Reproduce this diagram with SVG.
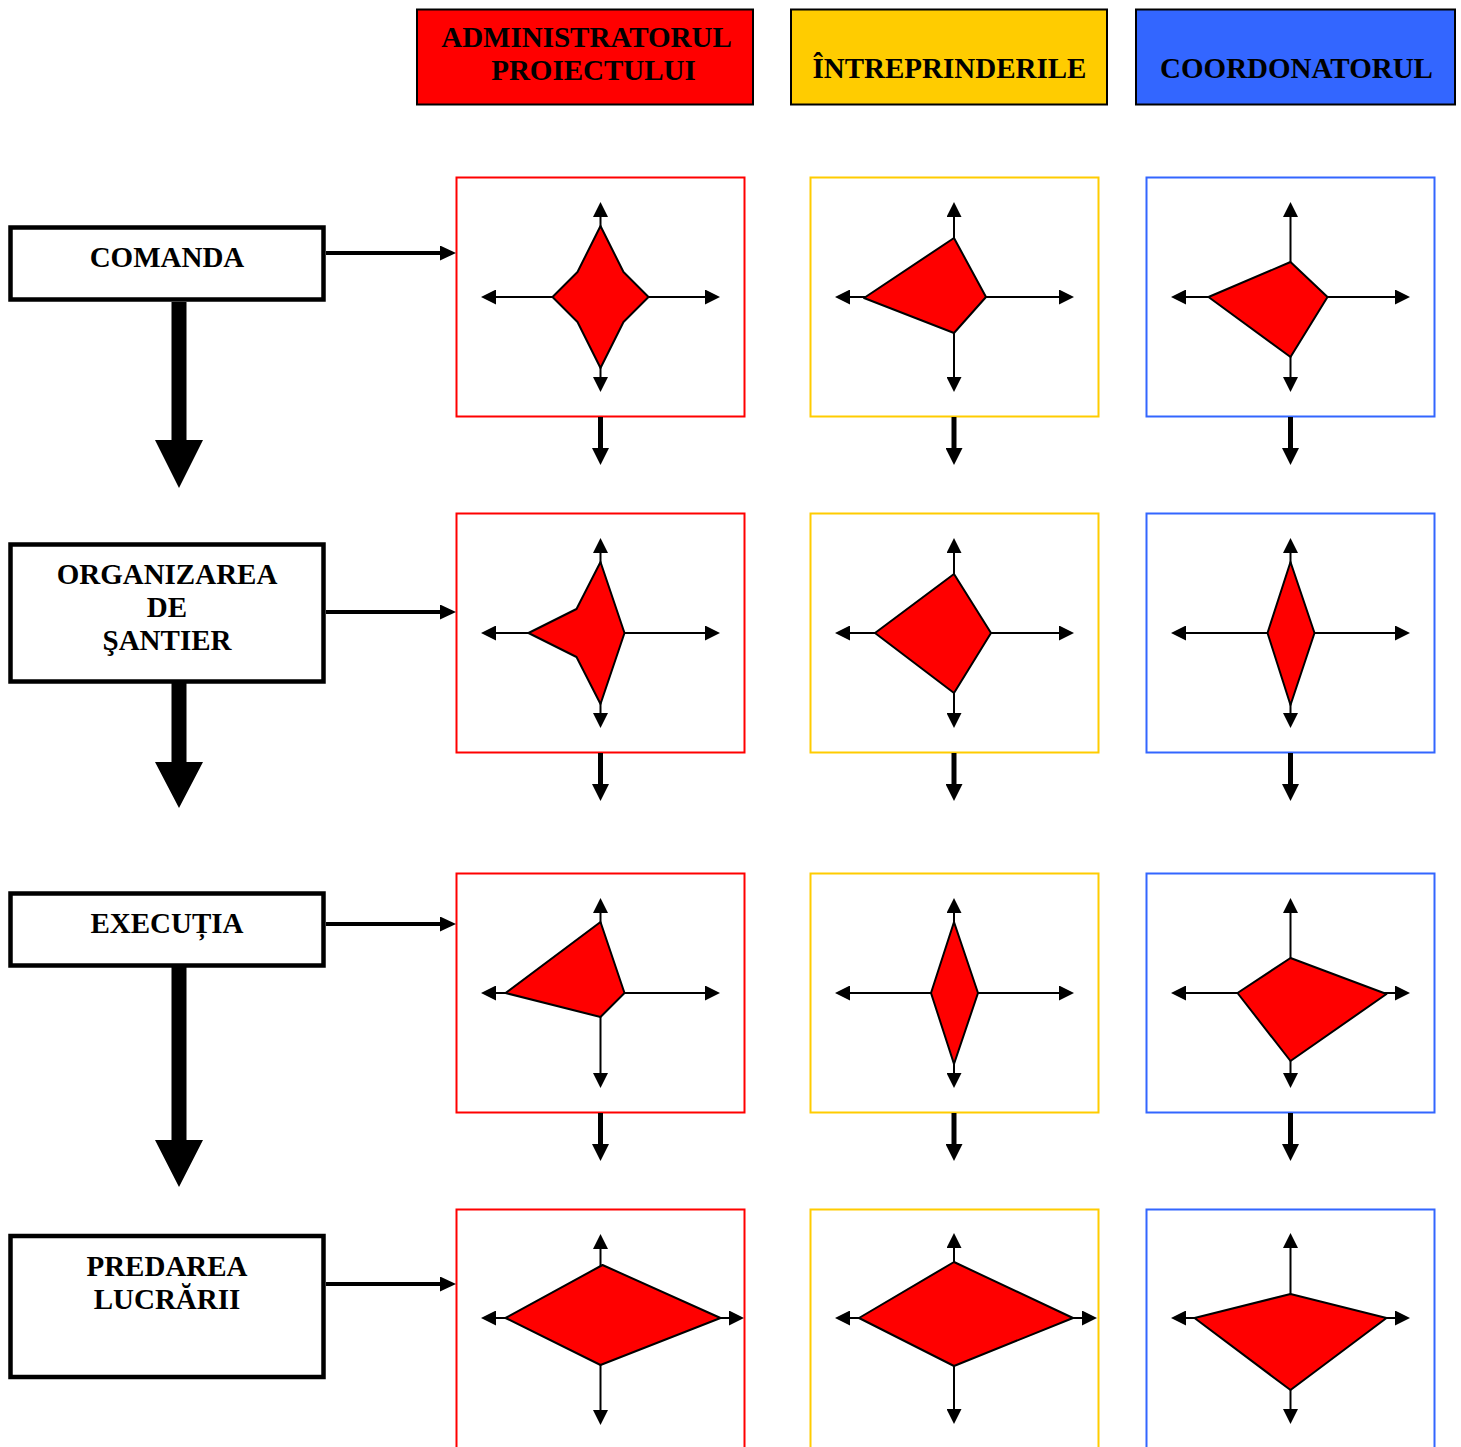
<svg xmlns="http://www.w3.org/2000/svg" width="1461" height="1447" viewBox="0 0 1461 1447">
<defs>
<style>
.hdr{stroke:#000;stroke-width:2}
.htxt{font-family:"Liberation Serif","Times New Roman",serif;font-weight:bold;font-size:29px;fill:#000;text-anchor:middle}
.ltxt{font-family:"Liberation Serif","Times New Roman",serif;font-weight:bold;font-size:29px;fill:#000;text-anchor:middle}
.lbox{fill:#fff;stroke:#000;stroke-width:4.5}
.pr{fill:#fff;stroke:#FF0000;stroke-width:2}
.py{fill:#fff;stroke:#FFCC00;stroke-width:2}
.pb{fill:#fff;stroke:#3366FF;stroke-width:2}
.ax{stroke:#000;stroke-width:2;marker-end:url(#ah)}
.shape{fill:#FF0000;stroke:#000;stroke-width:2;stroke-linejoin:round}
.hc{stroke:#000;stroke-width:4;fill:none;marker-end:url(#ah2)}
.dc{stroke:#000;stroke-width:5;fill:none;marker-end:url(#ah3)}
.big{fill:#000}
</style>
<marker id="ah" viewBox="0 0 10 10" refX="8" refY="5" markerWidth="15" markerHeight="15" markerUnits="userSpaceOnUse" orient="auto"><path d="M0,0 L10,5 L0,10 z" fill="#000"/></marker>
<marker id="ah2" viewBox="0 0 16 15" refX="11" refY="7.5" markerWidth="16" markerHeight="15" markerUnits="userSpaceOnUse" orient="auto"><path d="M0,0 L16,7.5 L0,15 z" fill="#000"/></marker>
<marker id="ah3" viewBox="0 0 17 17" refX="11" refY="8.5" markerWidth="17" markerHeight="17" markerUnits="userSpaceOnUse" orient="auto"><path d="M0,0 L17,8.5 L0,17 z" fill="#000"/></marker>
</defs>
<rect width="1461" height="1447" fill="#fff"/>

<!-- Header nodes -->
<g id="hdr-admin">
<rect class="hdr" x="417" y="9.5" width="336" height="95" fill="#FF0000"/>
<text class="htxt" x="586.5" y="47">ADMINISTRATORUL</text>
<text class="htxt" x="593.5" y="80">PROIECTULUI</text>
</g>
<g id="hdr-intreprinderile">
<rect class="hdr" x="791" y="9.5" width="316" height="95" fill="#FFCC00"/>
<text class="htxt" x="949.5" y="78">ÎNTREPRINDERILE</text>
</g>
<g id="hdr-coordonatorul">
<rect class="hdr" x="1136" y="9.5" width="319" height="95" fill="#3366FF"/>
<text class="htxt" x="1296.5" y="78">COORDONATORUL</text>
</g>

<!-- Left phase nodes -->
<g id="comanda">
<rect class="lbox" x="10.5" y="227.5" width="313" height="72"/>
<text class="ltxt" x="167" y="267">COMANDA</text>
</g>
<g id="organizarea">
<rect class="lbox" x="10.5" y="544.5" width="313" height="137"/>
<text class="ltxt" x="167" y="584">ORGANIZAREA</text>
<text class="ltxt" x="167" y="617">DE</text>
<text class="ltxt" x="167" y="650">ŞANTIER</text>
</g>
<g id="executia">
<rect class="lbox" x="10.5" y="893.5" width="313" height="72"/>
<text class="ltxt" x="167" y="933">EXECUȚIA</text>
</g>
<g id="predarea">
<rect class="lbox" x="10.5" y="1236" width="313" height="141"/>
<text class="ltxt" x="167" y="1276">PREDAREA</text>
<text class="ltxt" x="167" y="1309">LUCRĂRII</text>
</g>

<!-- Panels row 1 -->
<g id="p-r1c1">
<rect class="pr" x="456.5" y="177.5" width="288" height="239"/>
<g transform="translate(600.5,297)">
<line class="ax" x1="0" y1="0" x2="0" y2="-92"/><line class="ax" x1="0" y1="0" x2="0" y2="92"/>
<line class="ax" x1="0" y1="0" x2="-116.5" y2="0"/><line class="ax" x1="0" y1="0" x2="116.5" y2="0"/>
<polygon class="shape" points="0,-71 23,-25 48,0 23,25 0,71 -23,25 -48,0 -23,-25"/>
</g>
</g>
<g id="p-r1c2">
<rect class="py" x="810.5" y="177.5" width="288" height="239"/>
<g transform="translate(954,297)">
<line class="ax" x1="0" y1="0" x2="0" y2="-92"/><line class="ax" x1="0" y1="0" x2="0" y2="92"/>
<line class="ax" x1="0" y1="0" x2="-116" y2="0"/><line class="ax" x1="0" y1="0" x2="117" y2="0"/>
<polygon class="shape" points="0,-59 32,0 0,36 -90,1"/>
</g>
</g>
<g id="p-r1c3">
<rect class="pb" x="1146.5" y="177.5" width="288" height="239"/>
<g transform="translate(1290.5,297)">
<line class="ax" x1="0" y1="0" x2="0" y2="-92"/><line class="ax" x1="0" y1="0" x2="0" y2="92"/>
<line class="ax" x1="0" y1="0" x2="-116.5" y2="0"/><line class="ax" x1="0" y1="0" x2="116.5" y2="0"/>
<polygon class="shape" points="0,-35 37,0 0,60 -82,0"/>
</g>
</g>

<!-- Panels row 2 -->
<g id="p-r2c1">
<rect class="pr" x="456.5" y="513.5" width="288" height="239"/>
<g transform="translate(600.5,633)">
<line class="ax" x1="0" y1="0" x2="0" y2="-92"/><line class="ax" x1="0" y1="0" x2="0" y2="92"/>
<line class="ax" x1="0" y1="0" x2="-116.5" y2="0"/><line class="ax" x1="0" y1="0" x2="116.5" y2="0"/>
<polygon class="shape" points="0,-71 24,0 0,71 -24,24 -72,0 -24,-24"/>
</g>
</g>
<g id="p-r2c2">
<rect class="py" x="810.5" y="513.5" width="288" height="239"/>
<g transform="translate(954,633)">
<line class="ax" x1="0" y1="0" x2="0" y2="-92"/><line class="ax" x1="0" y1="0" x2="0" y2="92"/>
<line class="ax" x1="0" y1="0" x2="-116" y2="0"/><line class="ax" x1="0" y1="0" x2="117" y2="0"/>
<polygon class="shape" points="0,-59 37,0 0,60 -79,0"/>
</g>
</g>
<g id="p-r2c3">
<rect class="pb" x="1146.5" y="513.5" width="288" height="239"/>
<g transform="translate(1290.5,633)">
<line class="ax" x1="0" y1="0" x2="0" y2="-92"/><line class="ax" x1="0" y1="0" x2="0" y2="92"/>
<line class="ax" x1="0" y1="0" x2="-116.5" y2="0"/><line class="ax" x1="0" y1="0" x2="116.5" y2="0"/>
<polygon class="shape" points="0,-71 24,0 0,72 -23,0"/>
</g>
</g>

<!-- Panels row 3 -->
<g id="p-r3c1">
<rect class="pr" x="456.5" y="873.5" width="288" height="239"/>
<g transform="translate(600.5,993)">
<line class="ax" x1="0" y1="0" x2="0" y2="-92"/><line class="ax" x1="0" y1="0" x2="0" y2="92"/>
<line class="ax" x1="0" y1="0" x2="-116.5" y2="0"/><line class="ax" x1="0" y1="0" x2="116.5" y2="0"/>
<polygon class="shape" points="0,-71 24,0 0,24 -95,0"/>
</g>
</g>
<g id="p-r3c2">
<rect class="py" x="810.5" y="873.5" width="288" height="239"/>
<g transform="translate(954,993)">
<line class="ax" x1="0" y1="0" x2="0" y2="-92"/><line class="ax" x1="0" y1="0" x2="0" y2="92"/>
<line class="ax" x1="0" y1="0" x2="-116" y2="0"/><line class="ax" x1="0" y1="0" x2="117" y2="0"/>
<polygon class="shape" points="0,-71 24,0 0,71 -23,0"/>
</g>
</g>
<g id="p-r3c3">
<rect class="pb" x="1146.5" y="873.5" width="288" height="239"/>
<g transform="translate(1290.5,993)">
<line class="ax" x1="0" y1="0" x2="0" y2="-92"/><line class="ax" x1="0" y1="0" x2="0" y2="92"/>
<line class="ax" x1="0" y1="0" x2="-116.5" y2="0"/><line class="ax" x1="0" y1="0" x2="116.5" y2="0"/>
<polygon class="shape" points="0,-35 96,1 0,68 -53,0"/>
</g>
</g>

<!-- Panels row 4 -->
<g id="p-r4c1">
<rect class="pr" x="456.5" y="1209.5" width="288" height="260"/>
<g transform="translate(600.5,1318)">
<line class="ax" x1="0" y1="0" x2="0" y2="-81"/><line class="ax" x1="0" y1="0" x2="0" y2="104"/>
<line class="ax" x1="0" y1="0" x2="-116.5" y2="0"/><line class="ax" x1="0" y1="0" x2="140.5" y2="0"/>
<polygon class="shape" points="2,-53 120,0 0,47 -95,0"/>
</g>
</g>
<g id="p-r4c2">
<rect class="py" x="810.5" y="1209.5" width="288" height="260"/>
<g transform="translate(954,1318)">
<line class="ax" x1="0" y1="0" x2="0" y2="-82"/><line class="ax" x1="0" y1="0" x2="0" y2="103"/>
<line class="ax" x1="0" y1="0" x2="-116" y2="0"/><line class="ax" x1="0" y1="0" x2="140" y2="0"/>
<polygon class="shape" points="0,-56 119,0 0,48 -95,0"/>
</g>
</g>
<g id="p-r4c3">
<rect class="pb" x="1146.5" y="1209.5" width="288" height="260"/>
<g transform="translate(1290.5,1318)">
<line class="ax" x1="0" y1="0" x2="0" y2="-82"/><line class="ax" x1="0" y1="0" x2="0" y2="103"/>
<line class="ax" x1="0" y1="0" x2="-116.5" y2="0"/><line class="ax" x1="0" y1="0" x2="116.5" y2="0"/>
<polygon class="shape" points="0,-24 96,0 0,72 -96,0"/>
</g>
</g>

<!-- Connectors -->
<g id="connectors">
<line class="hc" x1="326" y1="253" x2="451" y2="253"/>
<line class="hc" x1="326" y1="612" x2="451" y2="612"/>
<line class="hc" x1="326" y1="924" x2="451" y2="924"/>
<line class="hc" x1="326" y1="1284" x2="451" y2="1284"/>

<polygon class="big" points="171.5,302 186.5,302 186.5,440 203,440 179,488 155,440 171.5,440"/>
<polygon class="big" points="171.5,683 186.5,683 186.5,762 203,762 179,808 155,762 171.5,762"/>
<polygon class="big" points="171.5,967 186.5,967 186.5,1140 203,1140 179,1187 155,1140 171.5,1140"/>

<line class="dc" x1="600.5" y1="417" x2="600.5" y2="459"/>
<line class="dc" x1="954" y1="417" x2="954" y2="459"/>
<line class="dc" x1="1290.5" y1="417" x2="1290.5" y2="459"/>
<line class="dc" x1="600.5" y1="753" x2="600.5" y2="795"/>
<line class="dc" x1="954" y1="753" x2="954" y2="795"/>
<line class="dc" x1="1290.5" y1="753" x2="1290.5" y2="795"/>
<line class="dc" x1="600.5" y1="1113" x2="600.5" y2="1155"/>
<line class="dc" x1="954" y1="1113" x2="954" y2="1155"/>
<line class="dc" x1="1290.5" y1="1113" x2="1290.5" y2="1155"/>
</g>
</svg>
